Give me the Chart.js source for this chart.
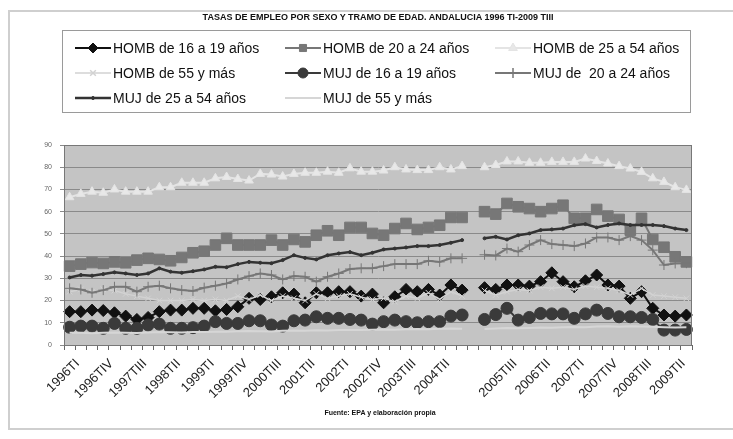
<!DOCTYPE html>
<html>
<head>
<meta charset="utf-8">
<script src="https://cdn.jsdelivr.net/npm/chart.js@4.4.0/dist/chart.umd.min.js"></script>
<style>
    body { margin: 0; background: #fff; font-family: "Liberation Sans", Arial, sans-serif; }
    #wrap { position: relative; width: 733px; height: 439px; overflow: hidden; }
    #frame { position: absolute; left: 8px; top: 10px; width: 740px; height: 420px; border: 2px solid #cfcfcf; box-sizing: border-box; }
    #title { position: absolute; top: 12px; left: 0; width: 756px; text-align: center; font-size: 9px; font-weight: bold; color: #111; }
    #source { position: absolute; top: 409px; left: 0; width: 760px; text-align: center; font-size: 7px; font-weight: bold; color: #111; }
    canvas { position: absolute; left: 0; top: 0; }
</style>
</head>
<body>
<div id="wrap">
    <div id="frame"></div>
    <canvas id="empleoChart" width="733" height="439"></canvas>
    <div id="title">TASAS DE EMPLEO POR SEXO Y TRAMO DE EDAD. ANDALUCIA 1996 TI-2009 TIII</div>
    <div id="source">Fuente: EPA y elaboración propia</div>
</div>
<script>
// quarters; index 36 is the break in the series (blank category)
const quarters = [
    '1996TI','1996TII','1996TIII','1996TIV',
    '1997TI','1997TII','1997TIII','1997TIV',
    '1998TI','1998TII','1998TIII','1998TIV',
    '1999TI','1999TII','1999TIII','1999TIV',
    '2000TI','2000TII','2000TIII','2000TIV',
    '2001TI','2001TII','2001TIII','2001TIV',
    '2002TI','2002TII','2002TIII','2002TIV',
    '2003TI','2003TII','2003TIII','2003TIV',
    '2004TI','2004TII','2004TIII','2004TIV',
    '',
    '2005TI','2005TII','2005TIII','2005TIV',
    '2006TI','2006TII','2006TIII','2006TIV',
    '2007TI','2007TII','2007TIII','2007TIV',
    '2008TI','2008TII','2008TIII','2008TIV',
    '2009TI','2009TII','2009TIII'
];

const homb1619 = [15,15,15.7,15.5, 14.5,13,11.5,12.4, 15,15.7,15.7,16.5, 16.5,15.4,16,17.2,
    21,20.5,21.7,23.5, 22.9,19,23.5,23.5, 24,24,22,22.9, 19,21.7,25,24, 25,22.5,27,24.7, null,
    25.8,25,27,27, 26.5,28.5,32.5,28.5, 26.2,28.9,31.5,27, 26.5,21,24,16.5, 13.5,13,13.5];
const homb2024 = [35.5,36.4,37.1,36.7, 37.4,37,38.2,39, 38.5,37.9,39.4,41.5, 42.2,45,48,45,
    45,45,47.2,45, 47.5,46.4,49.4,51.4, 49.4,52.9,52.9,50.2, 49.4,52.4,54.7,52, 52.9,53.9,57.4,57.4, null,
    60,58.9,63.7,62.2, 61.4,60,61.4,62.9, 57,57,61,58, 56.5,51.7,57,47.5, 44,39.7,37.4];
const homb2554 = [66.5,68,69,68.5, 70,69,69,69, 71,71,73,73, 73,75,75.6,74.7,
    74,77,76.7,75.8, 77,77.5,77.5,78, 77.5,79.5,78,78, 78.5,80,79,78.7, 78.7,80,79,80.5, null,
    80,81,82.6,82.6, 82,82,82.4,82.4, 82.4,83.9,82.8,81.7, 80.5,79.4,77.9,75, 73.4,71,69.8];
const homb55 = [24,25,24,25, 24.5,23,22,21, 20,20,20,20.5, 20,20.5,20,22,
    20.5,22.5,20,22, 21,20,23,21, 22,23,21.5,20.5, 21,19.5,22,21, 23.5,20.5,24,22, null,
    24.5,22.5,24,25, 24.5,26,25.5,26, 25,26.5,26,25.5, 24.5,22.5,25.5,22.5, 22,21.5,21];
const muj1619 = [8,8.5,8.5,7.5, 9.7,7.5,7.5,9, 9.4,7.5,7.5,7.8, 8.5,10.5,9.7,9.7,
    10.9,10.9,9,8.5, 10.9,11.2,12.7,12, 12,11.5,11.2,9.4, 10.5,11.2,10.5,10, 10.5,10.5,13,13.5, null,
    11.5,13.7,16.5,11.2, 12.4,14.2,14,14, 12,14,15.7,14.2, 12.7,12.7,12.4,11.5, 6.7,6.7,7];
const muj2024 = [25.5,25,23.5,24.7, 26.2,26.2,24,26.2, 26.7,25.5,24.7,24.3, 25.8,26.7,27.7,29.5,
    31,32.2,31.5,29.5, 31,30.7,28.5,30.7, 32.2,34.2,34.5,34.5, 35.5,36.4,36.4,36.4, 37.9,37.4,39,39, null,
    40.6,40.3,43.4,42, 45,47.2,45.4,45, 44.5,45.7,48.4,48.4, 47.2,49,47.2,42.7, 36,36.7,36.8];
const muj2554 = [30.4,31.5,31.2,31.9, 32.7,32.2,31.5,32.2, 34.5,33,32.5,33.2, 34,35.2,35,36.4,
    37.4,37,36.8,38.2, 40.4,39.2,38.5,40.4, 41.2,41.8,40.4,41.5, 43,43.4,43.9,44.5, 44.5,45,46,47.2, null,
    48,48.7,47.5,49.4, 50.2,51.7,52,52.4, 53.9,54.4,52.9,54, 54.7,54,54,54, 53.5,52.4,51.7];
const muj55 = [5.5,5.5,5.3,5.5, 5.6,5.5,5.4,5.6, 5.8,5.7,5.6,5.8, 5.9,6,6,6.2,
    6.3,6.2,6.1,6.4, 6.5,6.4,6.6,6.5, 6.7,6.8,6.7,6.9, 7,6.9,7.1,7.2, 7.1,7.3,7.4,7.3, null,
    7.2,7.4,7.6,7.5, 7.7,7.9,7.8,8, 8.1,8,8.3,8.4, 8.2,8.4,8.3,8.2, 8,7.9,8];

const yTicks = [0, 10, 20, 30, 40, 50, 60, 70, 80, 90];

function makeSeries(label, data, color, fill, style, radius, width) {
    return {
        label, data,
        borderColor: color,
        backgroundColor: fill,
        pointBackgroundColor: fill,
        pointBorderColor: color,
        pointStyle: style,
        pointRadius: radius,
        pointBorderWidth: 1,
        borderWidth: width,
        tension: 0,
        spanGaps: false
    };
}

const datasets = [
    makeSeries('HOMB de 16 a 19 años', homb1619, '#111111', '#111111', 'rectRot', 6, 2),
    makeSeries('HOMB de 20 a 24 años', homb2024, '#777777', '#777777', 'rect', 7.5, 2),
    makeSeries('HOMB de 25 a 54 años', homb2554, '#e4e4e4', '#e8e8e8', 'triangle', 5, 2),
    makeSeries('HOMB de 55 y más', homb55, '#d2d2d2', '#d2d2d2', 'crossRot', 4, 1.5),
    makeSeries('MUJ de 16 a 19 años', muj1619, '#3a3a3a', '#3a3a3a', 'circle', 6, 2),
    makeSeries('MUJ de  20 a 24 años', muj2024, '#777777', '#777777', 'cross', 5, 2),
    makeSeries('MUJ de 25 a 54 años', muj2554, '#333333', '#333333', 'circle', 1.5, 2.5),
    makeSeries('MUJ de 55 y más', muj55, '#d6d6d6', '#d6d6d6', 'circle', 0, 2)
];
// later series painted on top, like the spreadsheet original
datasets.forEach((d, i) => { d.order = datasets.length - i; });

const plotBackground = {
    id: 'plotBackground',
    beforeDraw(chart) {
        const { ctx, chartArea: a } = chart;
        ctx.save();
        ctx.fillStyle = '#c4c4c4';
        ctx.fillRect(a.left, a.top, a.right - a.left, a.bottom - a.top);
        ctx.restore();
    },
    afterDatasetsDraw(chart) {
        const { ctx, chartArea: a } = chart;
        ctx.save();
        ctx.strokeStyle = '#777';
        ctx.lineWidth = 1;
        ctx.strokeRect(a.left + 0.5, a.top + 0.5, a.right - a.left - 1, a.bottom - a.top);
        ctx.restore();
    }
};

const boxLegend = {
    id: 'boxLegend',
    afterDraw(chart) {
        const ctx = chart.ctx;
        const cols = [75, 285, 495];
        const rows = [48, 73, 98];
        ctx.save();
        ctx.fillStyle = '#fff';
        ctx.fillRect(62, 30, 628, 82);
        ctx.strokeStyle = '#9a9a9a';
        ctx.lineWidth = 1;
        ctx.strokeRect(62.5, 30.5, 628, 82);
        chart.data.datasets.forEach((ds, i) => {
            const x = cols[i % 3];
            const y = rows[Math.floor(i / 3)];
            ctx.strokeStyle = ds.borderColor;
            ctx.lineWidth = ds.borderWidth;
            ctx.beginPath();
            ctx.moveTo(x, y);
            ctx.lineTo(x + 36, y);
            ctx.stroke();
            if (ds.pointRadius > 0) {
                ctx.fillStyle = ds.pointBackgroundColor;
                ctx.strokeStyle = ds.pointBorderColor;
                ctx.lineWidth = ds.pointStyle.startsWith('cross') ? 1.5 : 1;
                Chart.helpers.drawPoint(ctx, {
                    pointStyle: ds.pointStyle,
                    radius: Math.min(ds.pointRadius, 5),
                    rotation: 0,
                    borderWidth: 1
                }, x + 18, y);
            }
            ctx.fillStyle = '#111';
            ctx.font = '14px "Liberation Sans", Arial, sans-serif';
            ctx.textBaseline = 'middle';
            ctx.fillText(ds.label, x + 38, y + 1);
        });
        ctx.restore();
    }
};

new Chart(document.getElementById('empleoChart').getContext('2d'), {
    type: 'line',
    data: { labels: quarters, datasets },
    plugins: [plotBackground, boxLegend],
    options: {
        responsive: false,
        animation: false,
        layout: { padding: { left: 10, right: 41, top: 145, bottom: 0 } },
        plugins: {
            legend: { display: false },
            tooltip: { enabled: false }
        },
        scales: {
            x: {
                offset: true,
                grid: { drawOnChartArea: false, offset: true, tickLength: 5, color: '#666' },
                border: { color: '#666' },
                ticks: {
                    autoSkip: false,
                    maxRotation: 45,
                    minRotation: 45,
                    padding: 6,
                    labelOffset: 8,
                    color: '#222',
                    font: { family: '"Liberation Sans", Arial, sans-serif', size: 13 },
                    callback: (v, i) => (i % 3 === 0 ? quarters[i] : '')
                },
                afterFit: (s) => { s.height = 94; }
            },
            y: {
                min: yTicks[0],
                max: yTicks[yTicks.length - 1],
                afterBuildTicks: (s) => { s.ticks = yTicks.map((v) => ({ value: v })); },
                grid: { color: '#8a8a8a', tickLength: 4 },
                border: { color: '#666' },
                ticks: {
                    color: '#666',
                    padding: 8,
                    font: { family: '"Liberation Sans", Arial, sans-serif', size: 7 }
                },
                afterFit: (s) => { s.width = 54; }
            }
        }
    }
});
</script>
</body>
</html>
